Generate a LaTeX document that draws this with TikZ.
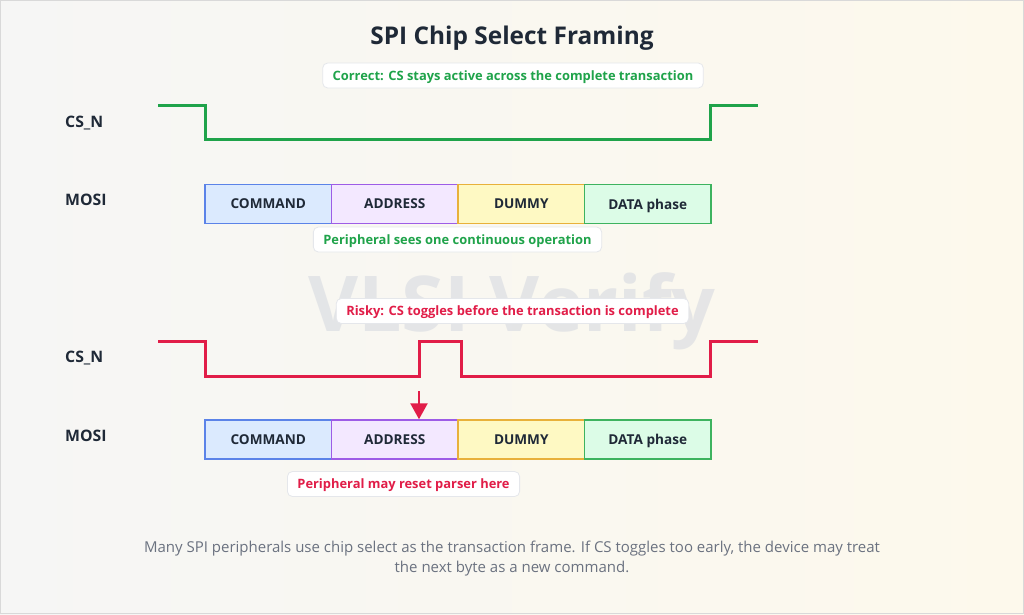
\documentclass[tikz,border=0pt]{standalone}
\usepackage{fontspec}
\setmainfont{Open Sans}
\usetikzlibrary{arrows.meta}
\definecolor{bgA}{HTML}{F6F6F5}
\definecolor{bgB}{HTML}{FDF9EC}
\definecolor{ink}{HTML}{1F2937}
\definecolor{okgreen}{HTML}{1FA34A}
\definecolor{badred}{HTML}{E11D48}
\definecolor{capgray}{HTML}{6B7280}
\definecolor{lblborder}{HTML}{E5E7EB}
\definecolor{cmdfill}{HTML}{DBEAFE}\definecolor{cmddraw}{HTML}{5B83E8}
\definecolor{adrfill}{HTML}{F3E8FF}\definecolor{adrdraw}{HTML}{9D5CE6}
\definecolor{dumfill}{HTML}{FEF9C3}\definecolor{dumdraw}{HTML}{E8B13A}
\definecolor{datfill}{HTML}{DCFCE7}\definecolor{datdraw}{HTML}{3DB35F}
\definecolor{wmark}{HTML}{D3D7DF}
\tikzset{
  sig/.style={font=\bfseries\fontsize{15.8}{18}\selectfont, text=ink, anchor=west, inner sep=0pt},
  seg/.style={minimum width=126.5pt, minimum height=39pt, inner sep=0pt, line width=1.5pt,
     font=\bfseries\fontsize{13.6}{15}\selectfont, text=ink, text depth=0pt},
  cmdseg/.style={seg, fill=cmdfill, draw=cmddraw},
  adrseg/.style={seg, fill=adrfill, draw=adrdraw},
  dumseg/.style={seg, fill=dumfill, draw=dumdraw},
  datseg/.style={seg, fill=datfill, draw=datdraw},
  lbl/.style={fill=white, draw=lblborder, line width=0.8pt, rounded corners=5pt,
     font=\bfseries\fontsize{12.9}{15}\selectfont, inner xsep=10pt, minimum height=25pt, inner ysep=0pt,
     text depth=0pt},
  wave/.style={line width=3pt, line join=miter},
}
\begin{document}
\begin{tikzpicture}[x=1pt,y=-1pt]
\useasboundingbox (0,0) rectangle (1024,614);
\shade[left color=bgA, right color=bgB] (0,0) rectangle (1024,614);
\draw[line width=1pt, black!15] (0.5,0.5) rectangle (1023.5,613.5);

% watermark
\node[text=wmark, opacity=0.55, font=\bfseries\fontsize{77}{90}\selectfont] (wm) at (512,311) {VLSI Verify};

% title
\node[font=\bfseries\fontsize{24.4}{28}\selectfont, text=ink] (title) at (512,38.5) {SPI Chip Select Framing};

% ---- correct ----
\node[lbl, text=okgreen] (lblok) at (513,75.5) {Correct: CS stays active across the complete transaction};
\node[sig] (cs1) at (65,123) {CS\_N};
\draw[wave, okgreen] (158,105) -- (205,105) -- (205,139) -- (710,139) -- (710,105) -- (758,105);
\node[sig] (mosi1) at (65,200) {MOSI};
\node[cmdseg] (c1) at (268.25,204) {COMMAND};
\node[adrseg] (a1) at (394.75,204) {ADDRESS};
\node[dumseg] (d1) at (521.25,204) {DUMMY};
\node[datseg] (p1) at (647.75,204) {DATA phase};
\node[lbl, text=okgreen] (lblcont) at (457.5,239.5) {Peripheral sees one continuous operation};

% ---- risky ----
\node[lbl, text=badred] (lblbad) at (512.5,311) {Risky: CS toggles before the transaction is complete};
\node[sig] (cs2) at (65,358) {CS\_N};
\draw[wave, badred] (158,341) -- (205,341) -- (205,376) -- (419,376) -- (419,341) -- (461,341) -- (461,376) -- (710,376) -- (710,341) -- (758,341);
\node[sig] (mosi2) at (65,436) {MOSI};
\node[cmdseg] (c2) at (268.25,439.5) {COMMAND};
\node[adrseg] (a2) at (394.75,439.5) {ADDRESS};
\node[dumseg] (d2) at (521.25,439.5) {DUMMY};
\node[datseg] (p2) at (647.75,439.5) {DATA phase};
\coordinate (arrtop) at (419,391);
\draw[badred, line width=2.5pt, -{Triangle[width=17pt,length=16pt]}] (arrtop) -- (a2.north -| arrtop);
\node[lbl, text=badred] (lblreset) at (403.5,484) {Peripheral may reset parser here};

% caption
\node[text=capgray, font=\fontsize{15}{19.5}\selectfont, align=center] (cap) at (512,558.5)
 {Many SPI peripherals use chip select as the transaction frame. If CS toggles too early, the device may treat\\the next byte as a new command.};
\end{tikzpicture}
\end{document}
